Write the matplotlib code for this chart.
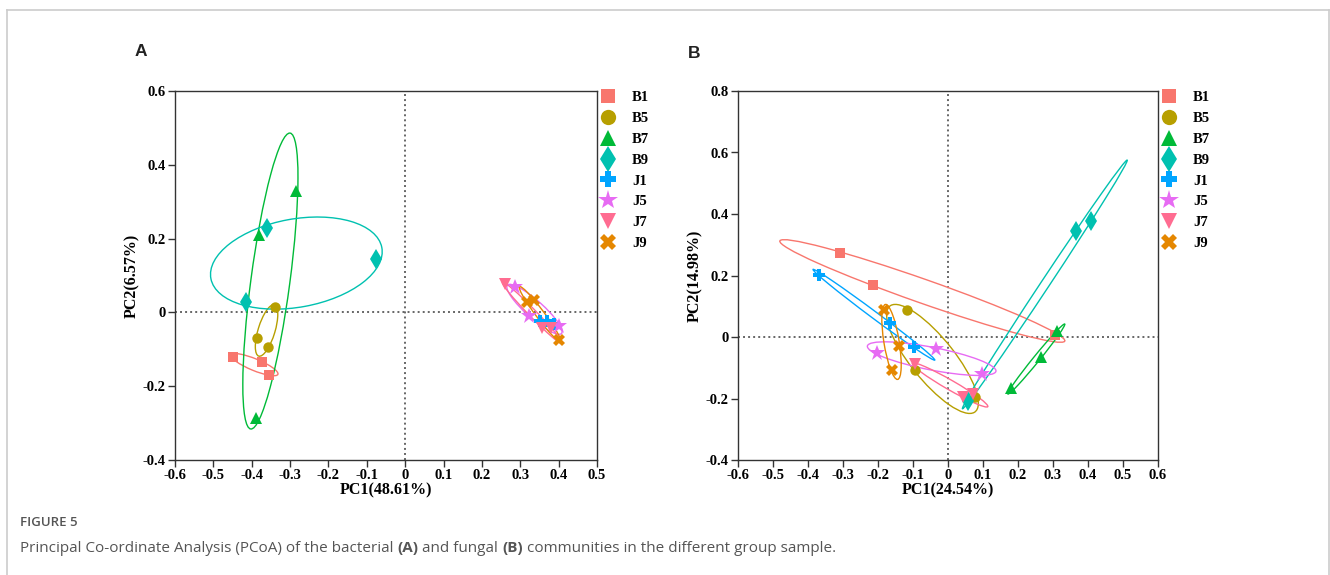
import numpy as np
import matplotlib
matplotlib.use("Agg")
import matplotlib.pyplot as plt
from matplotlib.patches import Ellipse
from matplotlib.ticker import FuncFormatter, MultipleLocator
from matplotlib.lines import Line2D

plt.rcParams['axes.unicode_minus'] = False

groups = ["B1", "B5", "B7", "B9", "J1", "J5", "J7", "J9"]
colors = ["#F8766D", "#B79F00", "#00BA38", "#00C1B0", "#00A5FF", "#E76BF3", "#FF6C91", "#E58700"]
markers = ["s", "o", "^", "d", "P", "*", "v", "X"]
msizes = [7, 7.5, 9, 10, 8.5, 12, 9, 8.5]
legend_msizes = [10, 11, 12, 13, 11.5, 15, 12, 11.5]

# Panel A (bacterial) PC1 / PC2 coordinates, 3 samples per group
a_pc1 = {
    "B1": [-0.449, -0.374, -0.355],
    "B5": [-0.340, -0.387, -0.357],
    "B7": [-0.284, -0.381, -0.389],
    "B9": [-0.360, -0.076, -0.415],
    "J1": [0.352, 0.370, 0.387],
    "J5": [0.286, 0.324, 0.401],
    "J7": [0.259, 0.357, 0.379],
    "J9": [0.318, 0.335, 0.401],
}
a_pc2 = {
    "B1": [-0.122, -0.134, -0.169],
    "B5": [0.015, -0.069, -0.093],
    "B7": [0.330, 0.210, -0.285],
    "B9": [0.229, 0.145, 0.027],
    "J1": [-0.023, -0.023, -0.032],
    "J5": [0.070, -0.009, -0.036],
    "J7": [0.077, -0.041, -0.041],
    "J9": [0.027, 0.034, -0.074],
}

# Panel B (fungal)
b_pc1 = {
    "B1": [-0.310, -0.215, 0.305],
    "B5": [-0.117, -0.094, 0.078],
    "B7": [0.310, 0.267, 0.180],
    "B9": [0.365, 0.408, 0.057],
    "J1": [-0.370, -0.167, -0.098],
    "J5": [-0.202, -0.034, 0.096],
    "J7": [-0.094, 0.042, 0.070],
    "J9": [-0.184, -0.139, -0.161],
}
b_pc2 = {
    "B1": [0.274, 0.170, 0.005],
    "B5": [0.087, -0.106, -0.195],
    "B7": [0.018, -0.066, -0.167],
    "B9": [0.344, 0.377, -0.208],
    "J1": [0.203, 0.047, -0.033],
    "J5": [-0.052, -0.038, -0.121],
    "J7": [-0.089, -0.195, -0.184],
    "J9": [0.089, -0.029, -0.108],
}

ELL_SCALE = 1.23
SERIF = "Liberation Serif"


def conf_ellipse(ax, x, y, color):
    x = np.asarray(x); y = np.asarray(y)
    cov = np.cov(x, y)
    vals, vecs = np.linalg.eigh(cov)
    order = vals.argsort()[::-1]
    vals = np.clip(vals[order], 1e-10, None)
    vecs = vecs[:, order]
    ang = np.degrees(np.arctan2(vecs[1, 0], vecs[0, 0]))
    w = 2 * ELL_SCALE * np.sqrt(vals[0])
    h = 2 * ELL_SCALE * np.sqrt(vals[1])
    e = Ellipse((x.mean(), y.mean()), w, h, angle=ang, fill=False,
                edgecolor=color, lw=1.0, zorder=2)
    ax.add_patch(e)


def fmt(v, pos):
    if abs(v) < 1e-9:
        return "0"
    return f"{v:.1f}"


def panel(ax, pc1, pc2, xlim, ylim, xstep, ystep, xlabel, ylabel):
    ax.axvline(0, color="#666666", ls=(0, (1.0, 1.6)), lw=1.4, zorder=1)
    ax.axhline(0, color="#666666", ls=(0, (1.0, 1.6)), lw=1.4, zorder=1)
    for g, c in zip(groups, colors):
        conf_ellipse(ax, pc1[g], pc2[g], c)
    for g, c, m, ms in zip(groups, colors, markers, msizes):
        ax.plot(pc1[g], pc2[g], ls="none", marker=m, ms=ms, color=c,
                mec=c, mew=0, zorder=3)
    ax.set_xlim(*xlim)
    ax.set_ylim(*ylim)
    ax.xaxis.set_major_locator(MultipleLocator(xstep))
    ax.yaxis.set_major_locator(MultipleLocator(ystep))
    ax.xaxis.set_major_formatter(FuncFormatter(fmt))
    ax.yaxis.set_major_formatter(FuncFormatter(fmt))
    for sp in ax.spines.values():
        sp.set_color("#333333")
        sp.set_linewidth(1.0)
    ax.tick_params(direction="out", length=5, width=1, color="#333333",
                   labelsize=10.5, pad=1.5)
    for lab in ax.get_xticklabels() + ax.get_yticklabels():
        lab.set_fontfamily(SERIF)
        lab.set_fontweight("bold")
    ax.set_xlabel(xlabel, fontfamily=SERIF, fontweight="bold", fontsize=11.5, labelpad=0)
    ax.set_ylabel(ylabel, fontfamily=SERIF, fontweight="bold", fontsize=11.5, labelpad=2)
    handles = [Line2D([], [], ls="none", marker=m, ms=lms, color=c, mew=0)
               for c, m, lms in zip(colors, markers, legend_msizes)]
    leg = ax.legend(handles, groups, loc="upper left", bbox_to_anchor=(1.0, 1.011),
                    frameon=False, handlelength=1.0, handletextpad=1.15,
                    labelspacing=0.53, borderaxespad=0.0, borderpad=0.25,
                    prop={"family": SERIF, "weight": "bold", "size": 10.5})
    return leg


W, H = 1330, 575
fig = plt.figure(figsize=(W / 100, H / 100), dpi=100)

axA = fig.add_axes([175 / W, 1 - 460 / H, 422 / W, 369 / H])
panel(axA, a_pc1, a_pc2, (-0.6, 0.5), (-0.4, 0.6), 0.1, 0.2, "PC1(48.61%)", "PC2(6.57%)")

axB = fig.add_axes([738 / W, 1 - 460 / H, 420 / W, 369 / H])
panel(axB, b_pc1, b_pc2, (-0.6, 0.6), (-0.4, 0.8), 0.1, 0.2, "PC1(24.54%)", "PC2(14.98%)")

# Panel letters
fig.text(141 / W, 1 - 51 / H, "A", ha="center", va="center", fontsize=12.5,
         fontweight="bold", fontfamily="Liberation Sans", color="#222222")
fig.text(694 / W, 1 - 54 / H, "B", ha="center", va="center", fontsize=12.5,
         fontweight="bold", fontfamily="Liberation Sans", color="#222222")

# Frame around figure
for xs, ys in [([6.5, 6.5], [575, 10]), ([6.5, 1328.5], [10, 10]), ([1328.5, 1328.5], [10, 575])]:
    fig.add_artist(Line2D([x / W for x in xs], [1 - y / H for y in ys],
                          transform=fig.transFigure, color="#cccccc", lw=1.2))

# Caption
fig.text(20 / W, 1 - 522 / H, "FIGURE 5", ha="left", va="center", fontsize=9.5,
         fontfamily="Open Sans", fontweight="semibold", color="#555555")
cap_y = 1 - 548 / H
t = fig.text(20 / W, cap_y, "Principal Co-ordinate Analysis (PCoA) of the bacterial ",
             ha="left", va="center", fontsize=11, fontfamily="Open Sans", color="#555555")
fig.canvas.draw()
r = fig.canvas.get_renderer()
pieces = [("(A)", "bold"), (" and fungal ", "normal"), ("(B)", "bold"),
          (" communities in the different group sample.", "normal")]
x_px = t.get_window_extent(r).x1
for txt, wt in pieces:
    tt = fig.text(x_px / W, cap_y, txt, ha="left", va="center", fontsize=11,
                  fontfamily="Open Sans", fontweight=wt, color="#555555")
    fig.canvas.draw()
    x_px = tt.get_window_extent(r).x1

fig.savefig("out.png", dpi=100)
